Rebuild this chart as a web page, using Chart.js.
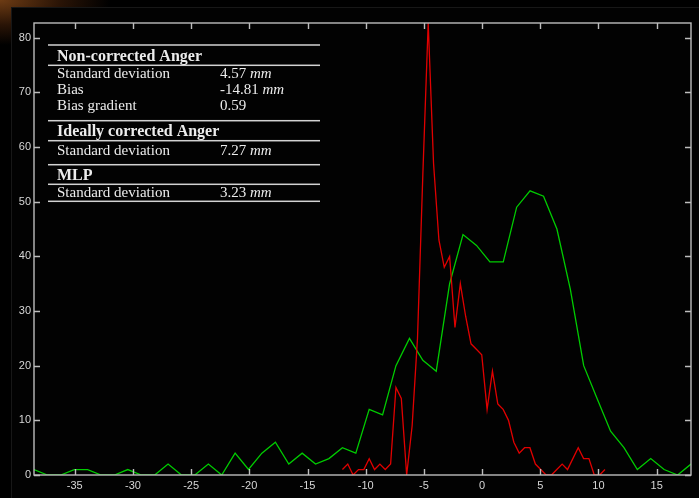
<!DOCTYPE html>
<html>
<head>
<meta charset="utf-8">
<script src="https://cdn.jsdelivr.net/npm/chart.js@4.4.0/dist/chart.umd.min.js"></script>
<style>
  html, body { margin: 0; padding: 0; width: 699px; height: 498px; overflow: hidden; }
  body { background: radial-gradient(ellipse 110px 45px at 0 0, #6e3c14 0%, #2a1406 55%, #000 100%); }
  #fig { position: absolute; left: 11px; top: 7px; right: 0; bottom: 0; background: #020202;
         border-left: 1px solid #171717; border-top: 1px solid #171717; }
  #wrap { position: absolute; left: 0; top: 0; width: 699px; height: 498px; }
</style>
</head>
<body>
<div id="fig"></div>
<div id="wrap"><canvas id="c" width="699" height="498"></canvas></div>
<script>
// error histograms (mm), wide bins
const greenX = [-38.50, -37.35, -36.20, -35.04, -33.89, -32.74, -31.59, -30.44, -29.28, -28.13,
                -26.98, -25.83, -24.68, -23.52, -22.37, -21.22, -20.07, -18.92, -17.76, -16.61,
                -15.46, -14.31, -13.16, -12.00, -10.85, -9.70, -8.55, -7.40, -6.24, -5.09,
                -3.94, -2.79, -1.64, -0.48, 0.67, 1.82, 2.97, 4.12, 5.28, 6.43,
                7.58, 8.73, 9.88, 11.04, 12.19, 13.34, 14.49, 15.64, 16.80, 17.95];
const greenY = [1, 0, 0, 1, 1, 0, 0, 1, 0, 0,
                2, 0, 0, 2, 0, 4, 1, 4, 6, 2,
                4, 2, 3, 5, 4, 12, 11, 20, 25, 21,
                19, 35, 44, 42, 39, 39, 49, 52, 51, 45,
                34, 20, 14, 8, 5, 1, 3, 1, 0, 2];

// narrow bins
const redX = [-12.00, -11.54, -11.08, -10.62, -10.16, -9.70, -9.24, -8.78, -8.32, -7.86,
              -7.40, -6.94, -6.48, -6.01, -5.55, -5.09, -4.63, -4.17, -3.71, -3.25,
              -2.79, -2.33, -1.87, -1.41, -0.95, -0.49, -0.03, 0.43, 0.89, 1.35,
              1.81, 2.27, 2.73, 3.19, 3.65, 4.11, 4.58, 5.04, 5.50, 5.96,
              6.42, 6.88, 7.34, 7.80, 8.26, 8.72, 9.18, 9.64, 10.10, 10.56];
const redY = [1, 2, 0, 1, 1, 3, 1, 2, 1, 2,
              16, 14, 0, 9, 25, 55, 82.7, 57, 43, 38,
              40, 27, 35, 29, 24, 23, 22, 12, 19, 13,
              12, 10, 6, 4, 5, 5, 2, 1, 0, 0,
              1, 2, 1, 3, 5, 3, 3, 0, 0, 1];

const xTickValues = [-35, -30, -25, -20, -15, -10, -5, 0, 5, 10, 15];
const yTickValues = [0, 10, 20, 30, 40, 50, 60, 70, 80];

const statRows = [
  { head: 'Non-corrected Anger' },
  { label: 'Standard deviation', value: '4.57', unit: 'mm' },
  { label: 'Bias', value: '-14.81', unit: 'mm' },
  { label: 'Bias gradient', value: '0.59', unit: '' },
  { head: 'Ideally corrected Anger' },
  { label: 'Standard deviation', value: '7.27', unit: 'mm' },
  { head: 'MLP' },
  { label: 'Standard deviation', value: '3.23', unit: 'mm' }
];

const AXIS = '#bdbdbd';
const LABEL = '#d6d6d6';

const pts = (xs, ys) => xs.map((x, i) => ({ x, y: ys[i] }));

// box round the plot with inward ticks on all four sides
const framePlugin = {
  id: 'frame',
  afterDatasetsDraw(chart) {
    const { ctx, chartArea: a, scales: { x, y } } = chart;
    ctx.save();
    ctx.strokeStyle = AXIS;
    ctx.lineWidth = 1.4;
    ctx.strokeRect(a.left, a.top, a.right - a.left, a.bottom - a.top);
    ctx.beginPath();
    xTickValues.forEach(v => {
      const px = Math.round(x.getPixelForValue(v)) + 0.5;
      ctx.moveTo(px, a.bottom); ctx.lineTo(px, a.bottom - 6);
      ctx.moveTo(px, a.top); ctx.lineTo(px, a.top + 6);
    });
    yTickValues.forEach(v => {
      const py = Math.round(y.getPixelForValue(v)) + 0.5;
      ctx.moveTo(a.left, py); ctx.lineTo(a.left + 6, py);
      ctx.moveTo(a.right, py); ctx.lineTo(a.right - 6, py);
    });
    ctx.stroke();
    ctx.restore();
  }
};

// statistics table in the upper left corner
const tablePlugin = {
  id: 'statTable',
  afterDraw(chart) {
    const ctx = chart.ctx;
    const x0 = 48, x1 = 320, tx = 57, vx = 220;
    const rules = [45, 65.3, 120.7, 140.7, 164.7, 184.3, 201.3];
    const baselines = [61, 78.3, 94, 110, 135.5, 154.5, 179.5, 197];
    ctx.save();
    ctx.fillStyle = '#d2d2d2';
    rules.forEach(r => ctx.fillRect(x0, r - 0.75, x1 - x0, 1.5));
    ctx.fillStyle = '#ececec';
    ctx.textBaseline = 'alphabetic';
    statRows.forEach((row, i) => {
      const by = baselines[i];
      if (row.head) {
        ctx.font = 'bold 16px "Liberation Serif", "Times New Roman", serif';
        ctx.fillText(row.head, tx, by);
        return;
      }
      ctx.font = '15px "Liberation Serif", "Times New Roman", serif';
      ctx.fillText(row.label, tx, by);
      const v = row.value + (row.unit ? ' ' : '');
      ctx.fillText(v, vx, by);
      if (row.unit) {
        const w = ctx.measureText(v).width;
        ctx.font = 'italic 15px "Liberation Serif", "Times New Roman", serif';
        ctx.fillText(row.unit, vx + w, by);
      }
    });
    ctx.restore();
  }
};

const tickFont = { family: '"Liberation Sans", Arial, sans-serif', size: 11 };

new Chart(document.getElementById('c'), {
  type: 'line',
  data: {
    datasets: [
      { data: pts(redX, redY), borderColor: '#e00000', borderWidth: 1.3,
        pointRadius: 0, tension: 0 },
      { data: pts(greenX, greenY), borderColor: '#00cc00', borderWidth: 1.3,
        pointRadius: 0, tension: 0 }
    ]
  },
  options: {
    responsive: false,
    animation: false,
    devicePixelRatio: 1,
    layout: { padding: { top: 23, right: 8, left: 0, bottom: 0 } },
    plugins: { legend: { display: false }, tooltip: { enabled: false } },
    scales: {
      x: {
        type: 'linear', min: -38.5, max: 17.95,
        grid: { display: false, drawTicks: false }, border: { display: false },
        afterBuildTicks: s => { s.ticks = xTickValues.map(v => ({ value: v })); },
        afterFit: s => { s.height = 23; },
        ticks: { color: LABEL, font: tickFont, padding: 4, maxRotation: 0, autoSkip: false }
      },
      y: {
        min: 0, max: 82.7,
        grid: { display: false, drawTicks: false }, border: { display: false },
        afterBuildTicks: s => { s.ticks = yTickValues.map(v => ({ value: v })); },
        afterFit: s => { s.width = 34; },
        ticks: { color: LABEL, font: tickFont, padding: 3, autoSkip: false }
      }
    }
  },
  plugins: [framePlugin, tablePlugin]
});
</script>
</body>
</html>
